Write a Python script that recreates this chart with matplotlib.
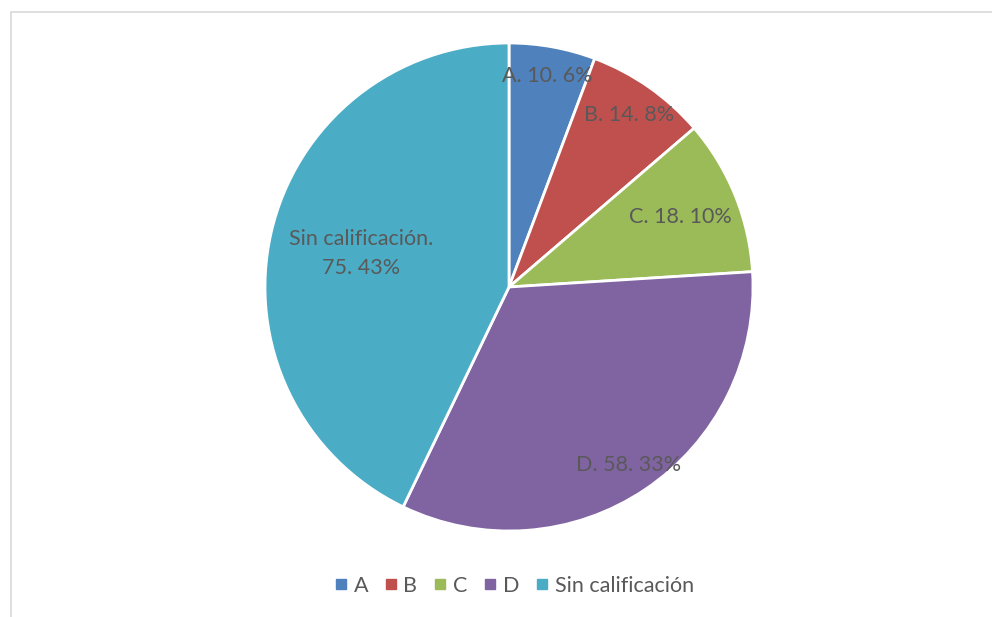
import numpy as np
import matplotlib
matplotlib.use("Agg")
import matplotlib.pyplot as plt
from matplotlib.lines import Line2D
from matplotlib.patches import Rectangle

plt.rcParams["font.family"] = ["Lato", "DejaVu Sans"]

# ── data ─────────────────────────────────────────────────────────────────────
categories = ["A", "B", "C", "D", "Sin calificación"]
values = [10, 14, 18, 58, 75]
colors = ["#4F81BD", "#C0504D", "#9BBB59", "#8064A2", "#4BACC6"]
label_dist = [0.88, 0.86, 0.76, 0.88, 0.62]   # radial position of data labels
TXT = "#595959"

W, H = 992, 617
fig = plt.figure(figsize=(W / 100, H / 100), dpi=100)

# chart frame (cut at right/bottom as in the source)
fig.patches.append(Rectangle((10.5 / W, -0.1), 1.2, 1.1 - 12 / H,
                             transform=fig.transFigure, fill=False,
                             ec="#d9d9d9", lw=1.2))

cx, cy, r = 509, 287, 244
ax = fig.add_axes([(cx - r) / W, (H - cy - r) / H, 2 * r / W, 2 * r / H])
wedges, _ = ax.pie(values, colors=colors, startangle=90, counterclock=False,
                   radius=1, wedgeprops=dict(edgecolor="white", linewidth=2))
ax.set_xlim(-1, 1); ax.set_ylim(-1, 1)
ax.set_aspect("equal")
ax.axis("off")

total = sum(values)
for w, cat, v, d in zip(wedges, categories, values, label_dist):
    ang = np.deg2rad((w.theta1 + w.theta2) / 2)
    pct = round(100 * v / total)
    txt = f"{cat}. {v}. {pct}%"
    if cat.startswith("Sin"):
        txt = f"{cat}.\n{v}. {pct}%"
    ax.text(d * np.cos(ang), d * np.sin(ang), txt, ha="center", va="center",
            fontsize=15.5, color=TXT, linespacing=1.55, multialignment="center")

handles = [Line2D([], [], marker="s", ls="", ms=6.5, color=c) for c in colors]
fig.legend(handles, categories, loc="center", ncol=5,
           bbox_to_anchor=(514 / W, 1 - 586 / H), frameon=False,
           fontsize=15.5, labelcolor=TXT, handlelength=0.6, handletextpad=0.3,
           columnspacing=0.75)

fig.savefig("out.png", dpi=100)
